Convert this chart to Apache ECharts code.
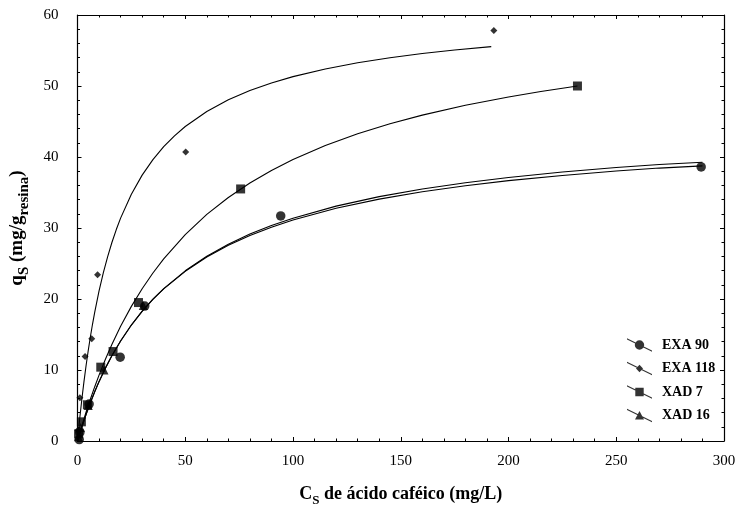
<!DOCTYPE html>
<html>
<head>
<meta charset="utf-8">
<script src="https://cdn.jsdelivr.net/npm/echarts@6/dist/echarts.min.js"></script>
<style>
  html, body { margin: 0; padding: 0; background: #fff; }
  #chart { width: 743px; height: 512px; }
</style>
</head>
<body>
<div id="chart"></div>
<script>
// Adsorption isotherms of caffeic acid on four resins: measured points [Cs, qs]
const exa90 = [[0.8, 0.2], [1.1, 1.2], [5.4, 5.2], [19.8, 11.8], [31.2, 19.0], [94.3, 31.7], [289.4, 38.6]];
const exa118 = [[0.2, 1.5], [1.1, 6.1], [3.5, 11.9], [6.6, 14.4], [9.3, 23.4], [50.2, 40.7], [193.2, 57.8]];
const xad7 = [[0.5, 1.0], [1.8, 2.7], [4.6, 5.1], [10.8, 10.4], [16.5, 12.6], [28.3, 19.5], [75.7, 35.5], [232.0, 50.0]];
const xad16 = [[0.4, 0.6], [1.4, 1.9], [5.0, 5.0], [12.3, 10.0], [30.5, 19.1]];

// Fitted isotherm curves [Cs, qs]
const fitExa90 = [[0, 0], [1, 1.01], [2, 1.97], [4, 3.77], [6, 5.43], [8, 6.96], [10, 8.37], [13, 10.30], [16, 12.04], [20, 14.09], [25, 16.33], [30, 18.26], [35, 19.94], [40, 21.42], [50, 23.90], [60, 25.91], [70, 27.56], [80, 28.94], [90, 30.11], [100, 31.13], [120, 32.78], [140, 34.07], [160, 35.10], [180, 35.95], [200, 36.67], [225, 37.40], [250, 38.02], [270, 38.44], [290, 38.75]];
const fitExa118 = [[0, 0], [0.5, 1.57], [1, 3.07], [2, 5.85], [3, 8.37], [4, 10.67], [5, 12.78], [6, 14.72], [7, 16.51], [8, 18.16], [10, 21.13], [12, 23.71], [14, 25.98], [16, 27.99], [18, 29.78], [20, 31.39], [25, 34.76], [30, 37.45], [35, 39.63], [40, 41.45], [45, 42.98], [50, 44.29], [60, 46.41], [70, 48.05], [80, 49.36], [90, 50.43], [100, 51.32], [115, 52.40], [130, 53.27], [145, 53.98], [160, 54.57], [175, 55.06], [192, 55.54]];
const fitXad7 = [[0, 0], [1, 1.07], [2, 2.11], [4, 4.08], [6, 5.92], [8, 7.65], [10, 9.28], [13, 11.55], [16, 13.63], [20, 16.15], [25, 18.96], [30, 21.45], [35, 23.66], [40, 25.65], [50, 29.07], [60, 31.91], [70, 34.30], [80, 36.34], [90, 38.11], [100, 39.65], [115, 41.62], [130, 43.28], [145, 44.69], [160, 45.90], [180, 47.29], [200, 48.46], [215, 49.22], [232, 49.99]];
const fitXad16 = [[0, 0], [1, 1.00], [2, 1.96], [4, 3.76], [6, 5.42], [8, 6.94], [10, 8.36], [13, 10.29], [16, 12.03], [20, 14.09], [25, 16.34], [30, 18.28], [35, 19.97], [40, 21.46], [50, 23.97], [60, 26.03], [70, 27.72], [80, 29.14], [90, 30.34], [100, 31.38], [120, 33.08], [140, 34.42], [160, 35.49], [180, 36.37], [200, 37.11], [225, 37.88], [250, 38.52], [270, 38.95], [290, 39.25]];

const seriesNames = ['EXA 90', 'EXA 118', 'XAD 7', 'XAD 16'];
const xTicks = { min: 0, max: 300, step: 50 };
const yTicks = { min: 0, max: 60, step: 10 };

const FONT = '"Liberation Serif", "Times New Roman", serif';
const INK = '#000';

// legend icons: a slanted stroke through the marker
const SLASH = 'M0,0 L25,12.3 L25,13.5 L0,1.2 Z ';
const icons = {
  'EXA 90': 'path://' + SLASH + 'M7.8,6.7 A4.7,4.7 0 1 1 17.2,6.7 A4.7,4.7 0 1 1 7.8,6.7 Z',
  'EXA 118': 'path://' + SLASH + 'M12.5,3 L16,6.7 L12.5,10.4 L9,6.7 Z',
  'XAD 7': 'path://' + SLASH + 'M8.3,2.5 L16.7,2.5 L16.7,10.9 L8.3,10.9 Z',
  'XAD 16': 'path://' + SLASH + 'M12.5,2.2 L17,10.7 L8,10.7 Z'
};

const chart = echarts.init(document.getElementById('chart'), null, { renderer: 'canvas' });

function baseAxis(t, extra) {
  return Object.assign({
    type: 'value',
    min: t.min,
    max: t.max,
    interval: t.step,
    splitLine: { show: false },
    axisLine: { show: true, onZero: false, lineStyle: { color: INK, width: 1.2 } },
    axisTick: { show: true, inside: true, length: 4, lineStyle: { color: INK } },
    minorTick: { show: true, splitNumber: 5, length: 2.5, lineStyle: { color: INK } },
    minorSplitLine: { show: false }
  }, extra);
}

function scatter(name, data, symbol, size) {
  return {
    name: name,
    type: 'scatter',
    data: data,
    symbol: symbol,
    symbolSize: size,
    itemStyle: { color: INK },
    z: 3
  };
}

function fit(name, data) {
  return {
    name: name + ' (ajuste)',
    type: 'line',
    data: data,
    showSymbol: false,
    smooth: false,
    lineStyle: { color: INK, width: 1.1 },
    z: 2,
    silent: true
  };
}

const xTitleRich = {
  b: { fontFamily: FONT, fontWeight: 'bold', fontSize: 18, color: INK, lineHeight: 26, verticalAlign: 'middle' },
  s: { fontFamily: FONT, fontWeight: 'bold', fontSize: 13, color: INK, lineHeight: 26, verticalAlign: 'bottom' }
};
const yTitleRich = {
  b: { fontFamily: FONT, fontWeight: 'bold', fontSize: 19, color: INK, lineHeight: 28, verticalAlign: 'middle' },
  s: { fontFamily: FONT, fontWeight: 'bold', fontSize: 15, color: INK, lineHeight: 28, verticalAlign: 'bottom' }
};

const option = {
  backgroundColor: '#fff',
  animation: false,
  grid: { left: 77, right: 19, top: 15, bottom: 70 },
  legend: {
    orient: 'vertical',
    left: 622,
    top: 333,
    itemWidth: 25,
    itemHeight: 13.5,
    itemGap: 9.5,
    textStyle: { fontFamily: FONT, fontWeight: 'bold', fontSize: 14, color: INK, lineHeight: 14, padding: [0, 0, 0, 5] },
    data: seriesNames.map(n => ({ name: n, icon: icons[n] }))
  },
  xAxis: [
    baseAxis(xTicks, {
      position: 'bottom',
      axisLabel: { fontFamily: FONT, fontSize: 15, color: INK, margin: 13 },
      name: '{b|C}{s|S}{b| de ácido caféico (mg/L)}',
      nameLocation: 'middle',
      nameGap: 40,
      nameTextStyle: { rich: xTitleRich }
    }),
    baseAxis(xTicks, { position: 'top', axisLabel: { show: false } })
  ],
  yAxis: [
    baseAxis(yTicks, {
      position: 'left',
      axisLabel: { fontFamily: FONT, fontSize: 15, color: INK, margin: 19 },
      name: '{b|q}{s|S}{b| (mg/g}{s|resina}{b|)}',
      nameLocation: 'middle',
      nameGap: 46,
      nameTextStyle: { rich: yTitleRich }
    }),
    baseAxis(yTicks, { position: 'right', axisLabel: { show: false } })
  ],
  series: [
    fit('EXA 90', fitExa90),
    fit('EXA 118', fitExa118),
    fit('XAD 7', fitXad7),
    fit('XAD 16', fitXad16),
    scatter('XAD 16', xad16, 'triangle', 9),
    scatter('EXA 90', exa90, 'circle', 9.5),
    scatter('XAD 7', xad7, 'rect', 9),
    scatter('EXA 118', exa118, 'diamond', 7)
  ]
};

chart.setOption(option);
</script>
</body>
</html>
